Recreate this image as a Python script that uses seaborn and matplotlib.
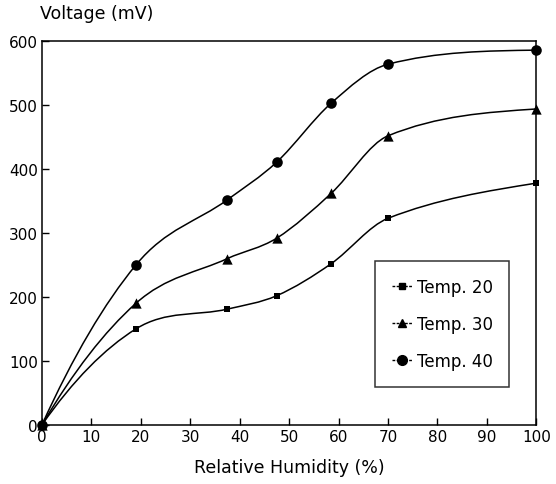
import numpy as np
import pandas as pd
import seaborn as sns
import matplotlib.pyplot as plt
from matplotlib.path import Path
from matplotlib.patches import PathPatch
from matplotlib.lines import Line2D

# Data
humidity = [0, 19, 37.5, 47.5, 58.5, 70, 100]
temp20 = [0, 150, 181, 202, 252, 323, 378]
temp30 = [0, 190, 260, 292, 362, 452, 494]
temp40 = [0, 250, 352, 411, 503, 564, 586]
series_names = ["Temp. 20", "Temp. 30", "Temp. 40"]
x_ticks = [0, 10, 20, 30, 40, 50, 60, 70, 80, 90, 100]
y_ticks = [0, 100, 200, 300, 400, 500, 600]


def smooth_path(xs, ys):
    """Smooth curve through the points (cubic hermite in x, drawn as bezier segments)."""
    x = np.asarray(xs, float)
    y = np.asarray(ys, float)
    h = np.diff(x)
    s = np.diff(y) / h
    m = np.zeros_like(y)
    m[1:-1] = (y[2:] - y[:-2]) / (x[2:] - x[:-2])
    # steep start (quadratic end condition), flat-ish natural end
    m[0] = s[0] + (s[0] - s[1]) * h[0] / (h[0] + h[1])
    m[-1] = (3 * s[-1] - m[-2]) / 2
    verts = [(x[0], y[0])]
    codes = [Path.MOVETO]
    for i in range(len(x) - 1):
        d = h[i] / 3
        verts += [(x[i] + d, y[i] + m[i] * d),
                  (x[i + 1] - d, y[i + 1] - m[i + 1] * d),
                  (x[i + 1], y[i + 1])]
        codes += [Path.CURVE4] * 3
    return Path(verts, codes)


def main():
    sns.set_theme(style="ticks")
    plt.rcParams['font.family'] = ['DejaVu Sans']
    plt.rcParams['text.color'] = 'black'
    plt.rcParams['axes.labelcolor'] = 'black'

    df = pd.DataFrame({
        'rh': humidity * 3,
        'mv': temp20 + temp30 + temp40,
        'series': [n for n in series_names for _ in humidity],
    })

    fig = plt.figure(figsize=(5.56, 4.85), dpi=100)
    ax = fig.add_axes([0.0755, 0.122, 0.889, 0.791])

    for ys in (temp20, temp30, temp40):
        ax.add_patch(PathPatch(smooth_path(humidity, ys), facecolor='none',
                               edgecolor='black', lw=1.1, zorder=2))

    markers = {"Temp. 20": "s", "Temp. 30": "^", "Temp. 40": "o"}
    sizes = {"Temp. 20": 22, "Temp. 30": 55, "Temp. 40": 58}
    for name in series_names:
        sub = df[df['series'] == name]
        sns.scatterplot(data=sub, x='rh', y='mv', marker=markers[name],
                        s=sizes[name], color='black', edgecolor='black',
                        linewidth=0, ax=ax, zorder=3, clip_on=False)

    ax.set_xlim(0, 100)
    ax.set_ylim(0, 600)
    ax.set_xticks(x_ticks)
    ax.set_yticks(y_ticks)
    ax.tick_params(direction='in', length=5, width=1, labelsize=11,
                   colors='black', pad=3)
    for sp in ax.spines.values():
        sp.set_color('black')
        sp.set_linewidth(1.1)
    ax.set_xlabel("Relative Humidity (%)", fontsize=12.5, labelpad=10,
                  color='black')
    ax.set_ylabel("")
    ax.text(-0.005, 1.05, "Voltage (mV)", transform=ax.transAxes,
            fontsize=12.5, ha='left', va='bottom', color='black')

    handles = [
        Line2D([], [], color='black', lw=1, ls=(0, (2, 1)), marker='s', markersize=4),
        Line2D([], [], color='black', lw=1, ls=(0, (2, 1)), marker='^', markersize=6),
        Line2D([], [], color='black', lw=1, ls=(0, (2, 1)), marker='o', markersize=7),
    ]
    leg = ax.legend(handles, series_names, loc='upper left',
                    bbox_to_anchor=(0.674, 0.427), fontsize=12, frameon=True,
                    fancybox=False, edgecolor='black', handlelength=1.2,
                    handletextpad=0.3, labelspacing=1.15, borderpad=1.0,
                    borderaxespad=0)
    leg.get_frame().set_linewidth(1.1)
    for t in leg.get_texts():
        t.set_color('black')

    fig.savefig("out.png", dpi=100)
    plt.close(fig)


if __name__ == "__main__":
    main()
